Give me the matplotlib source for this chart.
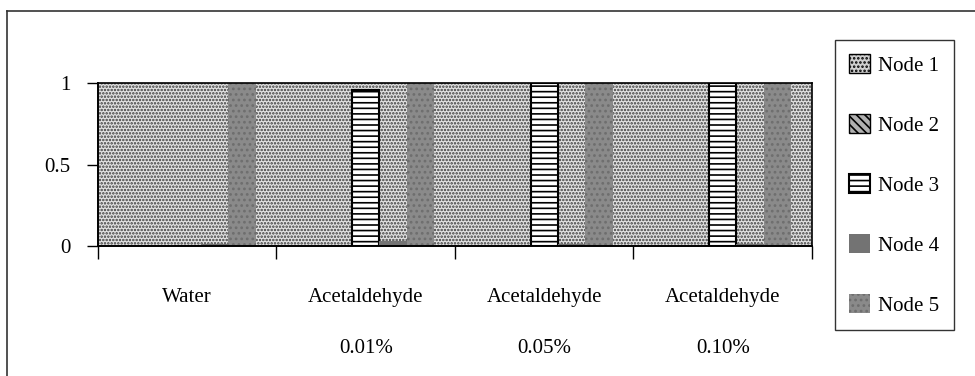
import matplotlib
matplotlib.use("Agg")
import matplotlib.pyplot as plt
import numpy as np
from matplotlib.lines import Line2D

plt.rcParams["font.family"] = ["Liberation Serif", "DejaVu Serif"]
plt.rcParams["hatch.linewidth"] = 1.2

categories = ["Water", "Acetaldehyde\n0.01%", "Acetaldehyde\n0.05%", "Acetaldehyde\n0.10%"]
series = ["Node 1", "Node 2", "Node 3", "Node 4", "Node 5"]
node1 = [0.0, 0.0, 0.0, 0.0]
node2 = [0.0, 0.0, 0.0, 0.0]
node3 = [0.0, 0.96, 1.0, 1.0]
node4 = [0.01, 0.03, 0.01, 0.01]
node5 = [1.0, 1.0, 1.0, 1.0]
values = [node1, node2, node3, node4, node5]
yticks = [0, 0.5, 1]

styles = [
    dict(facecolor="#cfcfcf", edgecolor="black", hatch="....", linewidth=1.0),
    dict(facecolor="#b0b0b0", edgecolor="black", hatch="\\\\\\\\", linewidth=1.0),
    dict(facecolor="white", edgecolor="black", hatch="---", linewidth=1.5),
    dict(facecolor="#737373", edgecolor="#666666", linewidth=0),
    dict(facecolor="#8a8a8a", edgecolor="#6e6e6e", hatch="...", linewidth=0),
]

fig = plt.figure(figsize=(9.75, 3.76), dpi=100)
ax = fig.add_axes([0.1005, 0.346, 0.7323, 0.433])

# dotted plot area
ax.patch.set_facecolor("#e2e2e2")
ax.patch.set_edgecolor("#3a3a3a")
ax.patch.set_hatch(".....")

x = np.arange(len(categories))
w = 1 / (len(series) + 1.5)
for i, (name, vals) in enumerate(zip(series, values)):
    ax.bar(x + (i - 2) * w, vals, width=w, label=name, **styles[i])

ax.set_xlim(-0.5, len(categories) - 0.5)
ax.set_ylim(0, 1)
ax.set_yticks(yticks)
ax.set_yticklabels(["0", "0.5", "1"], fontsize=15)
ax.tick_params(axis="y", direction="out", length=8, width=1, pad=12)

ax.set_xticks(x)
ax.set_xticklabels(categories, fontsize=15, linespacing=3.3)
ax.tick_params(axis="x", which="major", length=0, pad=30)
ax.set_xticks(np.arange(len(categories) + 1) - 0.5, minor=True)
ax.tick_params(axis="x", which="minor", direction="out", length=9, width=1)

for side in ["left", "bottom"]:
    ax.spines[side].set_linewidth(1.4)
for side in ["top", "right"]:
    ax.spines[side].set_linewidth(1.2)

leg = fig.legend(
    loc="upper left",
    bbox_to_anchor=(0.856, 0.894),
    fontsize=15,
    frameon=True,
    fancybox=False,
    edgecolor="black",
    handlelength=1.0,
    handleheight=1.0,
    handletextpad=0.4,
    labelspacing=1.85,
    borderpad=0.7,
    borderaxespad=0,
)
leg.get_frame().set_linewidth(1.0)

# outer chart frame: only top and left edges are visible in the scan
fig.add_artist(Line2D([0.0072, 1.0], [0.971, 0.971], transform=fig.transFigure,
                      color="#333333", linewidth=1.2))
fig.add_artist(Line2D([0.0072, 0.0072], [0.0, 0.971], transform=fig.transFigure,
                      color="#333333", linewidth=1.2))

fig.savefig("out.png", dpi=100)
